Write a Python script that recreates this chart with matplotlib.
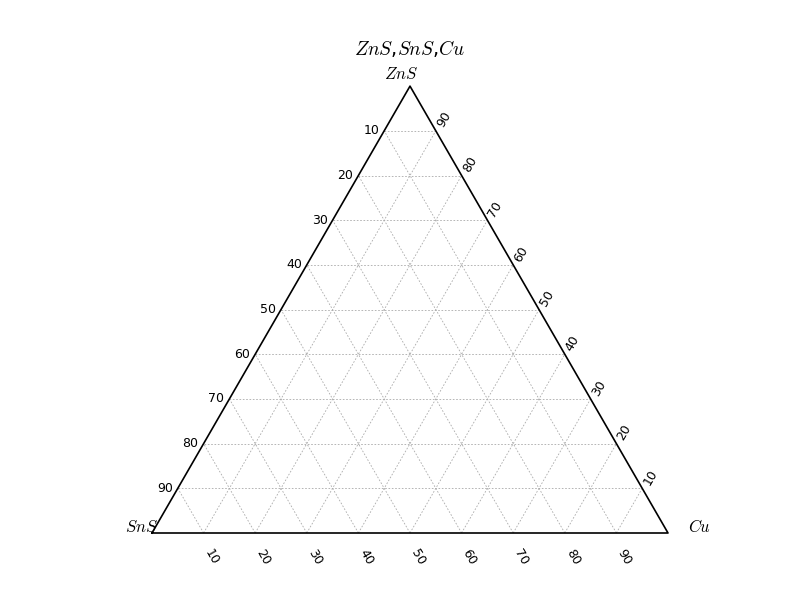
import numpy as np
import matplotlib
matplotlib.use("Agg")
import matplotlib.pyplot as plt

plt.rcParams["mathtext.fontset"] = "cm"

# --- dane wykresu ---
TYTUL = r"$ZnS$,$SnS$,$Cu$"
WIERZCHOLKI = [r"$ZnS$", r"$SnS$", r"$Cu$"]
PODZIALKA = [10, 20, 30, 40, 50, 60, 70, 80, 90]
SKALA = 100

H = np.sqrt(3) / 2


def do_xy(cu, zns):
    # wspolrzedne kartezjanskie punktu trojkata
    return cu + zns / 2.0, zns * H


fig = plt.figure(figsize=(8, 6), dpi=100)
ax = fig.add_axes([0, 0, 1, 1])
px = 5.16  # pikseli na jednostke
ax.set_xlim(-152 / px, (800 - 152) / px)
ax.set_ylim(-(600 - 533) / px, 533 / px)
ax.axis("off")

# --- siatka ---
siatka = dict(color="#aaaaaa", lw=0.6, ls=(0, (2, 2)), zorder=1)
for t in PODZIALKA:
    # poziome (stale ZnS)
    x1, y1 = do_xy(0, t)
    x2, y2 = do_xy(SKALA - t, t)
    ax.plot([x1, x2], [y1, y2], **siatka)
    # stale Cu
    x1, y1 = do_xy(t, 0)
    x2, y2 = do_xy(t, SKALA - t)
    ax.plot([x1, x2], [y1, y2], **siatka)
    # stale SnS
    x1, y1 = do_xy(SKALA - t, 0)
    x2, y2 = do_xy(0, SKALA - t)
    ax.plot([x1, x2], [y1, y2], **siatka)

# --- obrys trojkata ---
rogi = [do_xy(0, 0), do_xy(SKALA, 0), do_xy(0, SKALA), do_xy(0, 0)]
ax.plot([p[0] for p in rogi], [p[1] for p in rogi], color="black", lw=1.2, zorder=3)

# --- etykiety podzialki ---
for t in PODZIALKA:
    # lewa os: SnS
    x, y = do_xy(0, SKALA - t)
    ax.text(x - 5 / px, y, str(t), ha="right", va="center", fontsize=9)
    # prawa os: ZnS
    x, y = do_xy(SKALA - t, t)
    ax.text(x + 8 / px, y + 11 / px, str(t), ha="center", va="center",
            rotation=60, fontsize=9)
    # dolna os: Cu
    x, y = do_xy(t, 0)
    ax.text(x + 8 / px, y - 24 / px, str(t), ha="center", va="center",
            rotation=-60, fontsize=9)

# --- wierzcholki i tytul ---
x, y = do_xy(0, SKALA)
ax.text(x - 9 / px, y + 12 / px, WIERZCHOLKI[0], ha="center", va="center", fontsize=12)
x, y = do_xy(0, 0)
ax.text(x - 10 / px, y + 6 / px, WIERZCHOLKI[1], ha="center", va="center", fontsize=12)
x, y = do_xy(SKALA, 0)
ax.text(x + 32 / px, y + 6 / px, WIERZCHOLKI[2], ha="center", va="center", fontsize=12)
x, y = do_xy(0, SKALA)
ax.text(x, y + 38 / px, TYTUL, ha="center", va="center", fontsize=14)

fig.savefig("out.png", dpi=100)
